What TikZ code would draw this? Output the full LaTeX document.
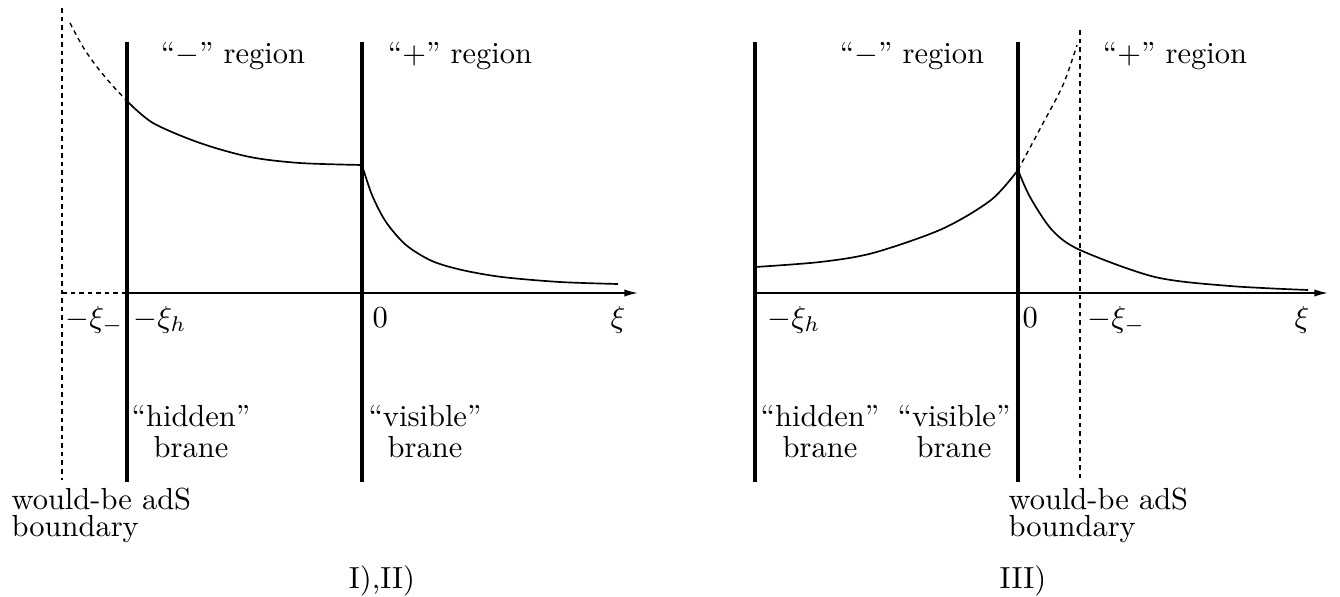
\documentclass[tikz,border=0pt]{standalone}
\usetikzlibrary{arrows.meta}
\tikzset{
  brane/.style={line width=1.05pt},
  axisline/.style={line width=0.5pt, -{Latex[length=4.5pt,width=2.4pt]}},
  curve/.style={line width=0.55pt},
  dashline/.style={line width=0.45pt, dash pattern=on 1.5pt off 1.3pt},
  lbl/.style={inner sep=0pt, font=\fontsize{10}{10.2}\selectfont},
  twoline/.style={lbl, align=center, anchor=north},
  bnd/.style={inner sep=0pt, align=left, anchor=north west, font=\fontsize{10}{8.9}\selectfont},
}
\begin{document}
\begin{tikzpicture}[x=0.328pt,y=-0.328pt]
\useasboundingbox (0,0) rectangle (1340,596);
% ---------------- left panel: I), II)
\coordinate (Lbt) at (62,8);   \coordinate (Lbb) at (62,480);
\coordinate (Lht) at (127,42); \coordinate (Lhb) at (127,482);
\coordinate (Lvt) at (362,42); \coordinate (Lvb) at (362,482);
\coordinate (La0) at (62,293); \coordinate (La1) at (127,293); \coordinate (La2) at (638,293);
\draw[dashline] (Lbt) -- (Lbb);
\draw[dashline] (La0) -- (La1);
\draw[axisline] (La1) -- (La2);
\draw[brane] (Lht) -- (Lhb);
\draw[brane] (Lvt) -- (Lvb);
\draw[dashline] plot[smooth] coordinates {(70,23) (83,47) (97,67) (112,85) (127,101)};
\draw[curve] plot[smooth] coordinates {(127,101) (153,123) (200,143) (250,157) (300,163) (362,165)};
\draw[curve] plot[smooth] coordinates {(362,165) (372,195) (386,222) (406,245) (432,261) (462,270) (502,277) (560,282) (618,284)};
\node[lbl, anchor=base] (Lminus) at (233,63) {``$-$'' region};
\node[lbl, anchor=base] (Lplus) at (460,63) {``$+$'' region};
\node[lbl, anchor=base west] (Lxm) at (65,327) {$-\xi_-$};
\node[lbl, anchor=base west] (Lxh) at (133,327) {$-\xi_h$};
\node[lbl, anchor=base west] (L0) at (372,327) {$0$};
\node[lbl, anchor=base west] (Lxi) at (610,327) {$\xi$};
\node[twoline] (Lhid) at (191,405) {``hidden''\\brane};
\node[twoline] (Lvis) at (425,405) {``visible''\\brane};
\node[bnd] (Lbound) at (11,487) {would-be adS\\boundary};
\node[lbl, anchor=base] (Lcap) at (382,588) {I),II)};
% ---------------- right panel: III)
\coordinate (Rht) at (755,42);  \coordinate (Rhb) at (755,482);
\coordinate (Rvt) at (1018,42); \coordinate (Rvb) at (1018,482);
\coordinate (Rbt) at (1080,30); \coordinate (Rbb) at (1080,480);
\coordinate (Ra1) at (755,293); \coordinate (Ra2) at (1328,293);
\draw[dashline] (Rbt) -- (Rbb);
\draw[axisline] (Ra1) -- (Ra2);
\draw[brane] (Rht) -- (Rhb);
\draw[brane] (Rvt) -- (Rvb);
\draw[curve] plot[smooth] coordinates {(755,267) (820,262) (873,253) (942,229) (991,200) (1018,170)};
\draw[dashline] plot[smooth] coordinates {(1018,170) (1041,127) (1063,85) (1077,45)};
\draw[curve] plot[smooth] coordinates {(1018,170) (1030,197) (1052,230) (1080,250) (1155,277) (1230,286) (1308,290)};
\node[lbl, anchor=base] (Rminus) at (912,63) {``$-$'' region};
\node[lbl, anchor=base] (Rplus) at (1175,63) {``$+$'' region};
\node[lbl, anchor=base west] (Rxh) at (767,327) {$-\xi_h$};
\node[lbl, anchor=base west] (R0) at (1022,327) {$0$};
\node[lbl, anchor=base west] (Rxm) at (1087,327) {$-\xi_-$};
\node[lbl, anchor=base west] (Rxi) at (1294,327) {$\xi$};
\node[twoline] (Rhid) at (820,405) {``hidden''\\brane};
\node[twoline] (Rvis) at (954,405) {``visible''\\brane};
\node[bnd] (Rbound) at (1008,487) {would-be adS\\boundary};
\node[lbl, anchor=base] (Rcap) at (1023,588) {III)};
\end{tikzpicture}
\end{document}
